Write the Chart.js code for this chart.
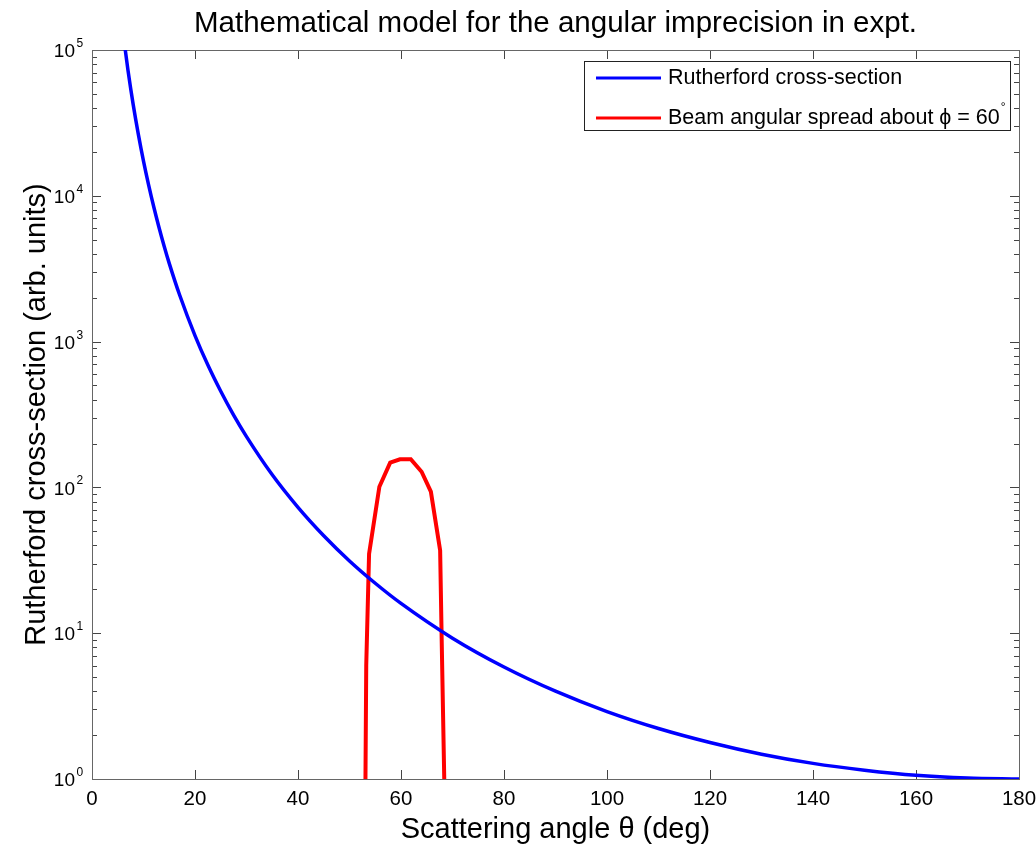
<!DOCTYPE html>
<html>
<head>
<meta charset="utf-8">
<script src="https://cdn.jsdelivr.net/npm/chart.js@4.4.0/dist/chart.umd.min.js"></script>
<style>
  html, body { margin: 0; padding: 0; background: #fff; }
  #wrap { width: 1036px; height: 844px; position: relative; }
</style>
</head>
<body>
<div id="wrap"><canvas id="myChart"></canvas></div>
<script>
// scattering angle (deg) and Rutherford cross-section
var thetaRuth = [6,7,8,9,10,11,12,13,14,15,17,20,22.5,25,27.5,30,35,40,45,50,55,60,70,80,90,100,110,120,130,140,150,160,170,180]
var ruthValues = [133000,72000,42200,26400,17300,11850,8380,6090,4530,3440,2095,1100,690,456,313,223,122,73,46.6,31.3,22,16,9.24,5.86,4,2.9,2.22,1.78,1.48,1.28,1.15,1.06,1.015,1]

// beam angular spread about 60 deg
var thetaBeam = [53.1,53.25,53.8,55.8,57.9,59.8,61.9,64.0,65.8,67.6,67.9,68.4]
var beamValues = [1,6,35,101,148,156,156,128,93.5,37,9,1]

var xTicks = [0,20,40,60,80,100,120,140,160,180]
var yDecades = [0,1,2,3,4,5]

var seriesNames = ['Rutherford cross-section', 'Beam angular spread about \u03D5 = 60']
var seriesColors = ['#0000FF', '#FF0000']

var FONT = 'Liberation Sans, Arial, Helvetica, sans-serif'

function pts(xs, ys) {
    return xs.map(function (x, i) { return { x: x, y: ys[i] }; });
}

// frame + inward ticks (MATLAB style)
var framePlugin = {
    id: 'frame',
    beforeDatasetsDraw: function (chart) {
        var ctx = chart.ctx, a = chart.chartArea;
        var xs = chart.scales.x, ys = chart.scales.y;
        ctx.save();
        ctx.strokeStyle = '#444';
        ctx.lineWidth = 1;
        ctx.beginPath();
        xTicks.forEach(function (t) {
            var px = Math.round(xs.getPixelForValue(t)) + 0.5;
            ctx.moveTo(px, a.bottom); ctx.lineTo(px, a.bottom - 9);
            ctx.moveTo(px, a.top); ctx.lineTo(px, a.top + 9);
        });
        yDecades.forEach(function (d) {
            for (var m = 1; m < 10; m++) {
                if (d === 5 && m > 1) break;
                var py = Math.round(ys.getPixelForValue(m * Math.pow(10, d))) + 0.5;
                var len = m === 1 ? 9 : 5;
                ctx.moveTo(a.left, py); ctx.lineTo(a.left + len, py);
                ctx.moveTo(a.right, py); ctx.lineTo(a.right - len, py);
            }
        });
        ctx.stroke();
        ctx.strokeStyle = '#666';
        ctx.strokeRect(Math.round(a.left) + 0.5, Math.round(a.top) + 0.5,
            Math.round(a.right - a.left), Math.round(a.bottom - a.top));
        ctx.restore();
    },
    afterDraw: function (chart) {
        var ctx = chart.ctx, ys = chart.scales.y;
        ctx.save();
        ctx.fillStyle = '#000';
        // y tick labels 10^n
        yDecades.forEach(function (d) {
            var py = ys.getPixelForValue(Math.pow(10, d));
            ctx.font = '19px ' + FONT;
            ctx.textAlign = 'right';
            ctx.textBaseline = 'middle';
            ctx.fillText('10', 75, py + 2);
            ctx.font = '12px ' + FONT;
            ctx.textAlign = 'left';
            ctx.textBaseline = 'alphabetic';
            ctx.fillText(String(d), 76.5, py - 3);
        });
        // legend box
        var bx = 584, by = 61, bw = 426, bh = 69;
        ctx.fillStyle = '#fff';
        ctx.fillRect(bx, by, bw, bh);
        ctx.strokeStyle = '#222';
        ctx.lineWidth = 1;
        ctx.strokeRect(bx + 0.5, by + 0.5, bw, bh);
        var rows = [78, 118];
        rows.forEach(function (ry, i) {
            ctx.strokeStyle = seriesColors[i];
            ctx.lineWidth = 3;
            ctx.beginPath();
            ctx.moveTo(596, ry); ctx.lineTo(661, ry);
            ctx.stroke();
            ctx.fillStyle = '#000';
            ctx.font = '21.5px ' + FONT;
            ctx.textAlign = 'left';
            ctx.textBaseline = 'middle';
            ctx.fillText(seriesNames[i], 668, ry);
            if (i === 1) {
                var w = ctx.measureText(seriesNames[i]).width;
                ctx.font = '12px ' + FONT;
                ctx.fillText('\u00B0', 668 + w + 1, ry - 10);
            }
        });
        ctx.restore();
    }
};

chart = new Chart('myChart', {
    type: 'line',
    data: {
        datasets: [{
            label: seriesNames[0],
            data: pts(thetaRuth, ruthValues),
            borderColor: seriesColors[0],
            borderWidth: 3.5,
            pointRadius: 0,
            cubicInterpolationMode: 'monotone',
            fill: false
        }, {
            label: seriesNames[1],
            data: pts(thetaBeam, beamValues),
            borderColor: seriesColors[1],
            borderWidth: 4,
            pointRadius: 0,
            tension: 0,
            fill: false
        }]
    },
    options: {
        responsive: true,
        maintainAspectRatio: false,
        animation: false,
        layout: { padding: { left: 0, right: 17, top: 0, bottom: 0 } },
        plugins: {
            legend: { display: false },
            tooltip: { enabled: false },
            title: {
                display: true,
                fullSize: false,
                text: 'Mathematical model for the angular imprecision in expt.',
                color: '#000',
                font: { family: FONT, size: 29.5, weight: 'normal', lineHeight: 1.2 },
                padding: { top: 6, bottom: 8.6 }
            }
        },
        scales: {
            x: {
                type: 'linear',
                min: 0,
                max: 180,
                grid: { display: false, drawTicks: false },
                border: { display: false },
                ticks: {
                    stepSize: 20,
                    color: '#000',
                    padding: 8,
                    maxRotation: 0,
                    font: { family: FONT, size: 20.5 }
                },
                title: {
                    display: true,
                    text: 'Scattering angle \u03B8 (deg)',
                    color: '#000',
                    font: { family: FONT, size: 29, lineHeight: 1 },
                    padding: { top: 0, bottom: 0 }
                },
                afterFit: function (s) {
                    s.height = 65;
                    s.paddingLeft = 0;
                    s.paddingRight = 0;
                }
            },
            y: {
                type: 'logarithmic',
                min: 1,
                max: 100000,
                grid: { display: false, drawTicks: false },
                border: { display: false },
                ticks: { display: false },
                title: {
                    display: true,
                    text: 'Rutherford cross-section (arb. units)',
                    color: '#000',
                    font: { family: FONT, size: 29, lineHeight: 1 },
                    padding: { top: 22, bottom: 0 }
                },
                afterFit: function (s) {
                    s.width = 92;
                    s.paddingTop = 0;
                    s.paddingBottom = 0;
                }
            }
        }
    },
    plugins: [framePlugin]
});
</script>
</body>
</html>
